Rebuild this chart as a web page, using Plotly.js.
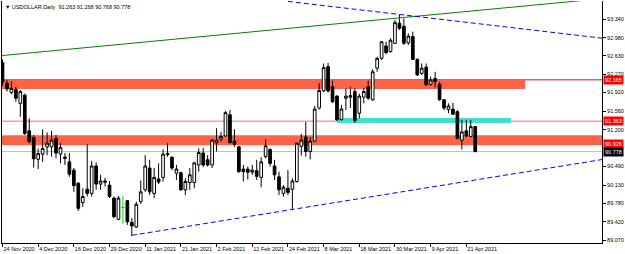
<!DOCTYPE html>
<html><head><meta charset="utf-8">
<script src="https://cdn.plot.ly/plotly-3.0.1.min.js"></script>
<style>html,body{margin:0;padding:0;background:#fff}#chart{width:625px;height:254px}</style>
</head><body><div id="chart"></div>
<script>
// ---- data (bar index 0 = 24 Nov 2020, daily bars) ----
const symbolName = 'USDOLLAR,Daily';
const openP = [92.50,92.10,91.92,91.98,91.71,91.87,91.18,91.05,90.63,90.73,
 90.87,90.87,91.03,90.73,90.67,90.58,90.42,90.17,89.79,90.05,
 89.97,90.50,90.15,90.21,90.13,89.88,89.47,89.70,89.83,89.41,
 89.32,89.81,90.04,90.46,89.97,90.25,90.28,90.74,90.67,90.36,
 90.37,90.04,90.18,90.18,90.52,90.75,90.62,90.52,90.95,91.02,
 91.08,91.49,90.98,90.87,90.44,90.44,90.38,90.41,90.28,90.68,
 90.82,90.50,90.29,89.97,90.07,90.05,90.20,90.88,91.06,90.78,
 90.98,91.62,91.95,92.42,92.03,91.85,91.40,91.81,91.83,91.94,
 91.52,91.83,92.03,91.78,92.39,92.58,92.82,92.71,92.87,93.26,
 93.20,92.88,93.00,92.56,92.29,92.41,92.08,92.19,92.08,91.78,
 91.59,91.60,91.55,91.00,91.18,91.07,91.263];
const highP = [92.56,92.16,92.14,92.03,91.97,91.90,91.42,91.10,90.84,91.21,
 91.15,91.18,91.10,90.94,90.75,90.75,90.46,90.18,90.07,90.92,
 90.60,90.57,90.33,90.27,90.21,89.91,89.92,89.92,89.84,89.49,
 89.81,90.22,90.71,90.62,90.46,90.55,90.82,90.94,90.68,90.52,
 90.39,90.26,90.46,90.58,90.84,90.85,90.71,91.02,91.23,91.16,
 91.56,91.58,91.21,90.89,90.52,90.49,90.52,90.62,90.67,91.02,
 90.84,90.62,90.39,90.13,90.42,90.26,90.95,91.12,91.35,91.06,
 91.66,92.10,92.48,92.49,92.15,91.87,91.68,92.00,92.03,92.00,
 91.90,92.01,92.15,92.37,92.61,92.915,92.90,92.97,93.32,93.42,
 93.35,93.06,93.095,92.58,92.48,92.48,92.23,92.32,92.13,91.79,
 91.71,91.72,91.58,91.39,91.39,91.39,91.268];
const lowP = [92.05,91.94,91.885,91.74,91.45,91.10,90.94,90.47,90.44,90.58,
 90.71,90.68,90.65,90.55,90.52,90.29,90.00,89.63,89.71,89.91,
 89.91,90.04,90.04,90.10,89.88,89.49,89.46,89.38,89.36,89.15,
 89.30,89.77,90.00,89.94,89.88,90.15,90.20,90.68,90.42,90.23,
 90.02,89.94,90.04,90.07,90.39,90.48,90.49,90.46,90.78,90.97,
 91.07,90.94,90.87,90.37,90.20,90.24,90.33,90.23,90.09,90.65,
 90.49,90.23,89.94,89.91,89.94,89.66,90.18,90.70,90.68,90.63,
 90.96,91.59,91.93,91.92,91.72,91.375,91.375,91.58,91.62,91.33,
 91.42,91.71,91.78,91.76,92.32,92.55,92.66,92.69,92.86,93.13,
 92.84,92.84,92.55,92.24,92.26,92.05,92.05,92.02,91.76,91.58,
 91.52,91.49,91.015,90.82,91.055,91.055,90.768];
const closeP = [92.12,91.99,92.00,91.81,91.94,91.13,90.97,90.64,90.74,90.84,
 90.94,91.00,90.75,90.86,90.65,90.34,90.12,89.68,89.91,89.97,
 90.50,90.15,90.21,90.19,89.91,89.52,89.88,89.70,89.42,89.34,
 89.76,90.00,90.50,90.00,90.28,90.19,90.73,90.72,90.46,90.44,
 90.04,90.20,90.33,90.56,90.76,90.52,90.52,91.00,91.00,91.07,
 91.53,90.95,90.92,90.39,90.39,90.38,90.42,90.30,90.58,90.89,
 90.55,90.33,90.04,90.09,89.99,90.21,90.94,91.00,90.78,90.98,
 91.60,91.96,92.40,91.95,91.74,91.39,91.60,91.85,91.86,91.38,
 91.85,91.94,91.81,92.32,92.58,92.90,92.69,92.93,93.27,93.16,
 92.87,93.01,92.56,92.26,92.39,92.07,92.16,92.13,91.78,91.62,
 91.66,91.50,91.035,91.16,91.08,91.26,90.778];
const tickBars = [0,8,16,24,32,40,48,56,64,72,80,88,96,104];
const tickLabels = ['24 Nov 2020','4 Dec 2020','16 Dec 2020','29 Dec 2020','11 Jan 2021','21 Jan 2021','2 Feb 2021','12 Feb 2021','24 Feb 2021','8 Mar 2021','18 Mar 2021','30 Mar 2021','9 Apr 2021','21 Apr 2021'];
const priceTicks = [93.340,92.980,92.630,92.270,91.920,91.560,91.200,90.490,90.130,89.780,89.420,89.070];
const levelRed = [92.165, 90.926];
const levelPink = 91.363;
const bidPrice = 90.778;
// trend lines: [bar index], [price]
const greenTrendX = [-1, 134.6], greenTrendY = [92.626, 93.735];
const blueUpperX = [64, 134.6], blueUpperY = [93.68, 92.968];
const blueLowerX = [29, 134.6], blueLowerY = [89.16, 90.627];
// zones: [bar from, bar to, price low, price high]
const zoneUpper = [-0.11, 117.2, 91.99, 92.16];
const zoneCyan = [75, 114, 91.33, 91.425];
const zoneLower = [-0.11, 134.42, 90.90, 91.09];

// ---- build ----
const idx = openP.map((_, i) => i);
const mainI = idx.filter(i => openP[i] !== closeP[i]);
const dojiI = idx.filter(i => openP[i] === closeP[i]);
const pick = (arr, ii) => ii.map(i => arr[i]);
const FONT = 'Liberation Sans, Arial, sans-serif';
const xRange = [-0.11, 134.42];
const yRange = [89.012, 93.688];

const traces = [
  {type:'scatter', mode:'lines', x:greenTrendX, y:greenTrendY, line:{color:'#008000', width:1}, hoverinfo:'skip'},
  {type:'scatter', mode:'lines', x:blueUpperX, y:blueUpperY, line:{color:'#0000ff', width:1, dash:'5px,3px'}, hoverinfo:'skip'},
  {type:'scatter', mode:'lines', x:blueLowerX, y:blueLowerY, line:{color:'#0000ff', width:1, dash:'5px,3px'}, hoverinfo:'skip'},
  {type:'candlestick', x:mainI, open:pick(openP,mainI), high:pick(highP,mainI), low:pick(lowP,mainI), close:pick(closeP,mainI),
   line:{width:1}, whiskerwidth:0,
   increasing:{line:{color:'#000000', width:1}, fillcolor:'#ffffff'},
   decreasing:{line:{color:'#000000', width:1}, fillcolor:'#000000'}, hoverinfo:'skip'},
  {type:'candlestick', x:dojiI, open:pick(openP,dojiI), high:pick(highP,dojiI), low:pick(lowP,dojiI), close:pick(closeP,dojiI),
   line:{width:1}, whiskerwidth:0,
   increasing:{line:{color:'#00dd00', width:1}, fillcolor:'#00dd00'},
   decreasing:{line:{color:'#00dd00', width:1}, fillcolor:'#00dd00'}, hoverinfo:'skip'}
];

const shapes = [];
const rect = (z, color) => ({type:'rect', layer:'below', xref:'x', yref:'y', x0:z[0], x1:z[1], y0:z[2], y1:z[3], fillcolor:color, line:{width:0}});
const hline = (p, color, w) => ({type:'line', layer:'below', xref:'paper', yref:'y', x0:0, x1:1, y0:p, y1:p, line:{color:color, width:w}});
shapes.push(rect(zoneUpper, '#ff6347'));
shapes.push(rect(zoneLower, '#ff6347'));
shapes.push(hline(zoneLower[3], '#ffb0a8', 1));
shapes.push(hline(levelPink, '#ff9c9c', 1.5));
shapes.push(rect(zoneCyan, '#40e0d0'));
levelRed.forEach(p => shapes.push(hline(p, '#ff0000', 1)));
shapes.push(hline(bidPrice, '#b4bcc6', 1));

const last = openP.length - 1;
const annotations = [
  {xref:'paper', yref:'paper', x:0, y:0.975, xanchor:'left', yanchor:'middle', xshift:1, showarrow:false,
   text:'▼ ' + symbolName + '  ' + [openP[last], highP[last], lowP[last], closeP[last]].map(v => v.toFixed(3)).join(' '),
   font:{family:FONT, size:5.5, color:'#000'}}
];
levelRed.concat([levelPink]).forEach(p => annotations.push({
  xref:'paper', yref:'y', x:1, y:p, xanchor:'left', yanchor:'middle', xshift:1, showarrow:false,
  text:p.toFixed(3), bgcolor:'#ff0000', borderpad:1, font:{family:FONT, size:5.5, color:'#ffffff'}}));
annotations.push({xref:'paper', yref:'y', x:1, y:bidPrice, xanchor:'left', yanchor:'middle', xshift:1, showarrow:false,
  text:bidPrice.toFixed(3), bgcolor:'#000000', borderpad:1, font:{family:FONT, size:5.5, color:'#ffffff'}});

const layout = {
  width:625, height:254, margin:{l:2, r:23, t:1, b:11},
  paper_bgcolor:'#ffffff', plot_bgcolor:'#ffffff', showlegend:false,
  boxgap:0.4, boxgroupgap:0,
  xaxis:{range:xRange, showgrid:false, zeroline:false, showline:true, linecolor:'#000', linewidth:1,
    ticks:'outside', ticklen:3, tickcolor:'#000', tickvals:tickBars, ticktext:tickLabels, tickangle:0,
    ticklabelposition:'outside right', tickfont:{family:FONT, size:5.5, color:'#000'},
    rangeslider:{visible:false}, fixedrange:true},
  yaxis:{range:yRange, side:'right', showgrid:false, zeroline:false, showline:true, mirror:true,
    linecolor:'#000', linewidth:1, ticks:'outside', ticklen:3, tickcolor:'#000',
    tickvals:priceTicks, tickformat:'.3f', tickfont:{family:FONT, size:5.5, color:'#000'}, fixedrange:true},
  shapes:shapes, annotations:annotations
};
Plotly.newPlot('chart', traces, layout, {staticPlot:true, displayModeBar:false});
</script></body></html>
